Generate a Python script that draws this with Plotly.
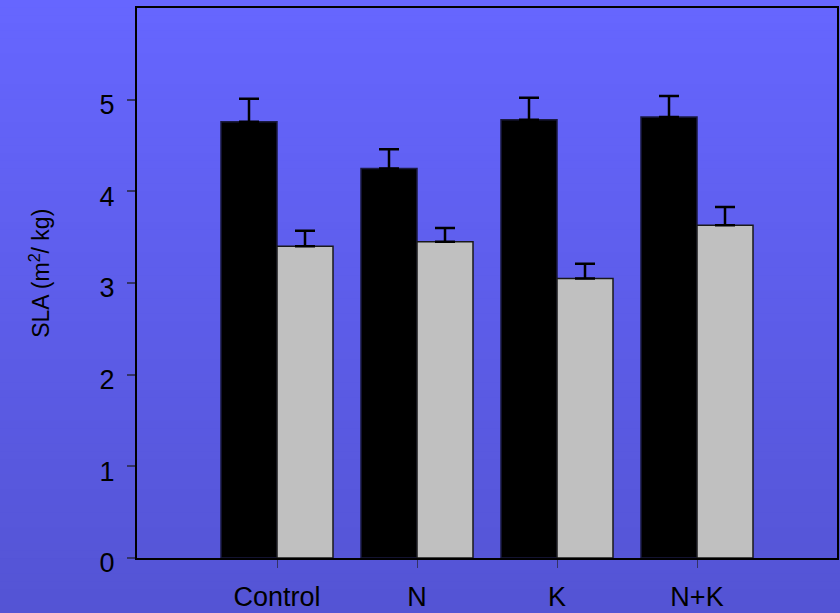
import plotly.graph_objects as go

categories = ["Control", "N", "K", "N+K"]
series1 = [4.76, 4.25, 4.78, 4.81]
series1_err = [0.25, 0.21, 0.24, 0.23]
series2 = [3.40, 3.45, 3.05, 3.63]
series2_err = [0.17, 0.15, 0.16, 0.20]
y_ticks = [0, 1, 2, 3, 4, 5]
y_title = "SLA (m<sup>2</sup>/ kg)"

fig = go.Figure()
fig.add_trace(go.Bar(
    x=categories, y=series1, marker=dict(color="black", line=dict(color="#1a1a40", width=1.5)),
    error_y=dict(type="data", array=series1_err, arrayminus=[0]*4, symmetric=False,
                 color="black", thickness=2.5, width=10),
    showlegend=False))
fig.add_trace(go.Bar(
    x=categories, y=series2, marker=dict(color="#C0C0C0", line=dict(color="#1a1a1a", width=1.5)),
    error_y=dict(type="data", array=series2_err, arrayminus=[0]*4, symmetric=False,
                 color="black", thickness=2.5, width=10),
    showlegend=False))

# vertical gradient background
n = 80
top = (102, 102, 255)
bot = (84, 84, 212)
W, H = 840, 613
l, r, t, b = 137, 1, 8, 54
pw, ph = W - l - r, H - t - b
shapes = []
for i in range(n):
    f = i / (n - 1)
    c = tuple(round(top[k] + (bot[k] - top[k]) * f) for k in range(3))
    y1 = 1 + t / ph - (i / n) * (H / ph)
    y0 = 1 + t / ph - ((i + 1) / n) * (H / ph) - 0.002
    shapes.append(dict(type="rect", xref="paper", yref="paper",
                       x0=-l / pw - 0.01, x1=1 + r / pw + 0.01, y0=y0, y1=y1,
                       fillcolor="rgb(%d,%d,%d)" % c, line=dict(width=0), layer="below"))

fig.update_layout(
    width=W, height=H,
    margin=dict(l=l, r=r, t=t, b=b),
    paper_bgcolor="rgba(0,0,0,0)",
    plot_bgcolor="rgba(0,0,0,0)",
    barmode="group", bargap=0.2, bargroupgap=0,
    shapes=shapes,
    font=dict(family="Liberation Sans, Arial, sans-serif", size=27, color="black"),
    xaxis=dict(range=[-1, 4], showline=True, linecolor="black", linewidth=2, mirror=True,
               ticks="outside", ticklen=8, tickcolor="#333366", tickwidth=1,
               ticklabelstandoff=6,
               showgrid=False, zeroline=False, tickfont=dict(size=27)),
    yaxis=dict(range=[0, 6], tickvals=y_ticks, showline=True, linecolor="black", linewidth=2,
               mirror=True, ticks="outside", ticklen=8, tickcolor="#333366", tickwidth=1.5,
               ticklabelstandoff=7, ticklabelshift=5,
               showgrid=False, zeroline=False, tickfont=dict(size=27)),
    annotations=[dict(text=y_title, textangle=-90, showarrow=False,
                      xref="paper", yref="paper",
                      x=(39 - l) / pw, y=(559 - 274) / ph,
                      xanchor="center", yanchor="middle",
                      font=dict(size=23, color="black"))],
)
fig.write_html("out.html", config={"displayModeBar": False},
               post_script="document.body.style.margin='0';document.body.style.overflow='hidden';")
